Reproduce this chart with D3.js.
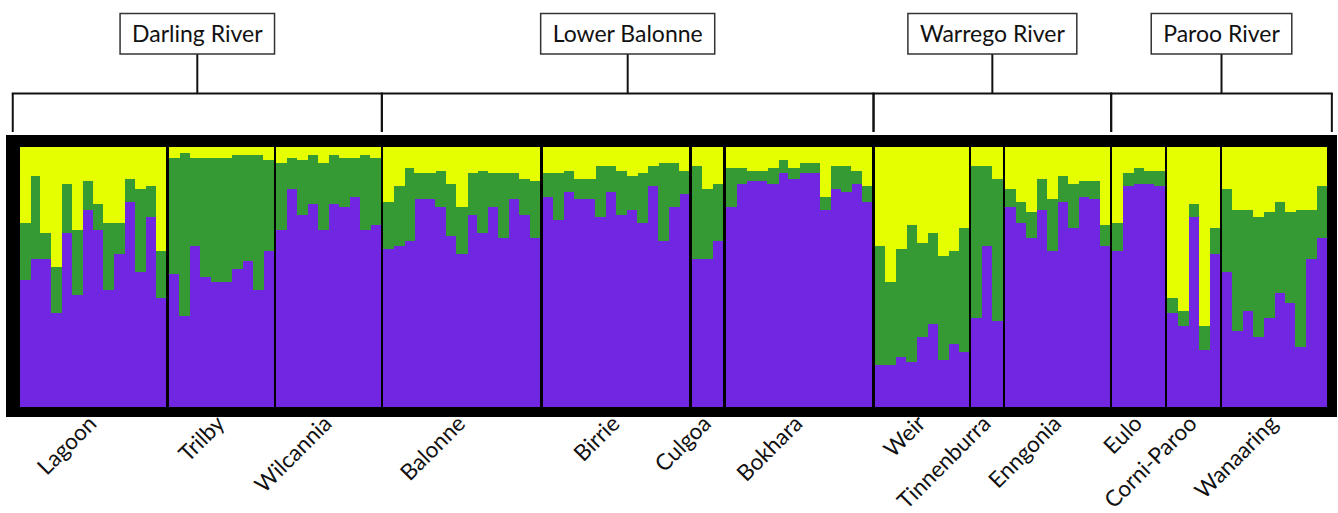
<!DOCTYPE html>
<html>
<head>
<meta charset="utf-8">
<script src="https://cdn.jsdelivr.net/npm/d3@7"></script>
<style>
  body { margin: 0; background: #fff; }
  svg { display: block; font-family: Lato, 'Open Sans', sans-serif; }
</style>
</head>
<body>
<svg class="structure" width="1338" height="513"></svg>
<script>
// Populations in plot order and number of individuals in each
const populations = ['Lagoon', 'Trilby', 'Wilcannia', 'Balonne', 'Birrie', 'Culgoa', 'Bokhara',
  'Weir', 'Tinnenburra', 'Enngonia', 'Eulo', 'Corni-Paroo', 'Wanaaring'];
const sampleSizes = [14, 10, 10, 15, 14, 3, 14, 9, 3, 10, 5, 5, 10];

// River catchments (index of first and last population in each)
const rivers = ['Darling River', 'Lower Balonne', 'Warrego River', 'Paroo River'];
const riverFirst = [0, 3, 7, 10];
const riverLast = [2, 6, 9, 12];

// Membership coefficients per individual (yellow cluster = remainder)
const qPurple = [
  0.49, 0.57, 0.57, 0.36, 0.67, 0.43, 0.76, 0.68, 0.45, 0.59, 0.79, 0.52, 0.73, 0.42, // Lagoon
  0.51, 0.35, 0.62, 0.50, 0.48, 0.48, 0.53, 0.56, 0.45, 0.60, // Trilby
  0.68, 0.84, 0.74, 0.78, 0.68, 0.78, 0.77, 0.81, 0.68, 0.70, // Wilcannia
  0.61, 0.62, 0.64, 0.80, 0.80, 0.77, 0.66, 0.59, 0.74, 0.67, 0.77, 0.65, 0.80, 0.74, 0.65, // Balonne
  0.81, 0.72, 0.83, 0.80, 0.80, 0.73, 0.83, 0.74, 0.76, 0.71, 0.85, 0.64, 0.77, 0.82, // Birrie
  0.57, 0.57, 0.64, // Culgoa
  0.77, 0.86, 0.87, 0.87, 0.86, 0.90, 0.88, 0.90, 0.90, 0.76, 0.84, 0.83, 0.86, 0.79, // Bokhara
  0.16, 0.16, 0.19, 0.17, 0.27, 0.32, 0.18, 0.24, 0.21, // Weir
  0.34, 0.62, 0.33, // Tinnenburra
  0.77, 0.71, 0.65, 0.76, 0.60, 0.79, 0.69, 0.81, 0.80, 0.62, // Enngonia
  0.60, 0.85, 0.86, 0.86, 0.85, // Eulo
  0.36, 0.31, 0.73, 0.22, 0.59, // Corni-Paroo
  0.52, 0.29, 0.37, 0.27, 0.34, 0.44, 0.40, 0.23, 0.57, 0.65  // Wanaaring
];
const qGreen = [
  0.22, 0.32, 0.10, 0.18, 0.19, 0.25, 0.11, 0.10, 0.26, 0.12, 0.09, 0.32, 0.12, 0.18,
  0.45, 0.63, 0.34, 0.46, 0.48, 0.48, 0.44, 0.41, 0.52, 0.35,
  0.26, 0.12, 0.21, 0.19, 0.26, 0.19, 0.19, 0.15, 0.29, 0.26,
  0.18, 0.23, 0.28, 0.10, 0.10, 0.14, 0.20, 0.18, 0.16, 0.24, 0.13, 0.25, 0.10, 0.14, 0.22,
  0.09, 0.18, 0.08, 0.08, 0.08, 0.20, 0.10, 0.17, 0.13, 0.19, 0.08, 0.30, 0.17, 0.09,
  0.36, 0.27, 0.22,
  0.15, 0.06, 0.04, 0.04, 0.06, 0.05, 0.04, 0.04, 0.04, 0.05, 0.09, 0.10, 0.05, 0.06,
  0.46, 0.32, 0.42, 0.53, 0.36, 0.35, 0.40, 0.36, 0.48,
  0.59, 0.31, 0.55,
  0.07, 0.08, 0.10, 0.12, 0.20, 0.10, 0.17, 0.06, 0.07, 0.08,
  0.11, 0.05, 0.06, 0.05, 0.06,
  0.06, 0.06, 0.05, 0.09, 0.10,
  0.32, 0.47, 0.39, 0.46, 0.41, 0.35, 0.35, 0.53, 0.19, 0.20
];

const clusterKeys = ['purple', 'green', 'yellow'];
const clusterColors = ['#7127e2', '#359a34', '#e5ff00'];

//Build rows: each individual with its population index and position slot
let rows = [];
let k = 0;
sampleSizes.forEach((n, p) => {
  for (let j = 0; j < n; j++, k++) {
    rows.push({
      pop: p,
      slot: k,
      last: j === n - 1,
      purple: qPurple[k],
      green: qGreen[k],
      yellow: Math.max(0, 1 - qPurple[k] - qGreen[k]),
    });
  }
});

//Layout
const svg = d3.select('svg.structure');
const frame = { left: 6, top: 135, right: 1337, bottom: 417 };
const inner = { left: 19.5, top: 147, right: 1326.7, bottom: 406 };
const gap = 0.22; // gap between populations, in bar widths

let x = d3.scaleLinear()
  .domain([0, rows.length + (populations.length - 1) * gap])
  .range([inner.left, inner.right]);
let y = d3.scaleLinear().domain([0, 1]).range([inner.bottom, inner.top]);
let color = d3.scaleOrdinal().domain(clusterKeys).range(clusterColors);

const barW = x(1) - x(0);
const xStart = d => x(d.slot + d.pop * gap);
const popStart = p => x(d3.sum(sampleSizes.slice(0, p)) + p * gap);
const popEnd = p => x(d3.sum(sampleSizes.slice(0, p + 1)) + p * gap);

//Black frame (also shows through gaps as dividers)
svg.append('rect')
  .attr('x', frame.left)
  .attr('y', frame.top)
  .attr('width', frame.right - frame.left)
  .attr('height', frame.bottom - frame.top)
  .attr('fill', '#000');

//Stacked bars
let stacked = d3.stack().keys(clusterKeys)(rows);
svg.append('g')
  .attr('shape-rendering', 'crispEdges')
  .selectAll('g')
  .data(stacked)
  .enter()
  .append('g')
    .attr('fill', d => color(d.key))
  .selectAll('rect')
  .data(d => d)
  .enter()
  .append('rect')
    .attr('x', d => xStart(d.data))
    .attr('width', d => d.data.last ? barW : barW + 0.6)
    .attr('y', d => y(d[1]))
    .attr('height', d => y(d[0]) - y(d[1]) + 0.5);

//Population labels under the plot
svg.append('g')
  .selectAll('text')
  .data(populations)
  .enter()
  .append('text')
    .attr('transform', (d, i) => {
      let cx = (popStart(i) + popEnd(i)) / 2;
      return 'translate(' + (cx + 5) + ',' + 425 + ') rotate(-45)';
    })
    .attr('text-anchor', 'end')
    .attr('font-size', 22.5)
    .attr('fill', '#111')
    .text(d => d);

//River brackets on top
const bracketY = 93.5;
const tickBottom = 132;
const boxTop = 13.5;
const boxBottom = 54;

function edgeLeft(p) {
  return p === 0 ? (frame.left + inner.left) / 2 : (popEnd(p - 1) + popStart(p)) / 2;
}
function edgeRight(p) {
  return p === populations.length - 1 ? (inner.right + frame.right) / 2 : (popEnd(p) + popStart(p + 1)) / 2;
}

let brackets = svg.append('g').attr('stroke', '#111').attr('stroke-width', 2);

rivers.forEach((name, i) => {
  let x0 = edgeLeft(riverFirst[i]);
  let x1 = edgeRight(riverLast[i]);
  let mid = (x0 + x1) / 2;

  brackets.append('line').attr('x1', x0 - 1).attr('x2', x1 + 1).attr('y1', bracketY).attr('y2', bracketY);
  brackets.append('line').attr('x1', x0).attr('x2', x0).attr('y1', bracketY).attr('y2', tickBottom);
  brackets.append('line').attr('x1', x1).attr('x2', x1).attr('y1', bracketY).attr('y2', tickBottom);
  brackets.append('line').attr('x1', mid).attr('x2', mid).attr('y1', boxBottom).attr('y2', bracketY);

  let box = svg.append('g');
  let rect = box.append('rect');
  let label = box.append('text')
    .attr('x', mid)
    .attr('y', (boxTop + boxBottom) / 2 + 8)
    .attr('text-anchor', 'middle')
    .attr('font-size', 23)
    .attr('fill', '#111')
    .text(name);
  let w = label.node().getComputedTextLength();

  rect
    .attr('x', mid - w / 2 - 12)
    .attr('y', boxTop)
    .attr('width', w + 24)
    .attr('height', boxBottom - boxTop)
    .attr('fill', '#fff')
    .attr('stroke', '#333')
    .attr('stroke-width', 1.5);
});
</script>
</body>
</html>
